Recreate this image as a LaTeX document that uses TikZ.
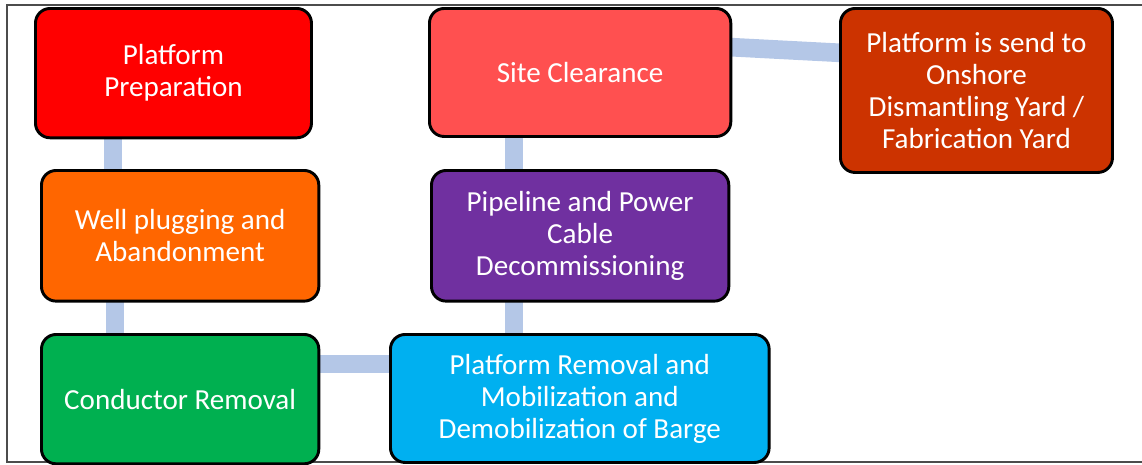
\documentclass[tikz,border=0pt]{standalone}
\usepackage{fontspec}
\setmainfont{Carlito}
\usetikzlibrary{calc,backgrounds}
\definecolor{linkblue}{HTML}{B4C7E7}
\definecolor{cPrep}{HTML}{FF0000}
\definecolor{cWell}{HTML}{FF6600}
\definecolor{cCond}{HTML}{00B050}
\definecolor{cRem}{HTML}{00B0F0}
\definecolor{cPipe}{HTML}{7030A0}
\definecolor{cSite}{HTML}{FF5050}
\definecolor{cShore}{HTML}{CC3300}
\begin{document}
\begin{tikzpicture}[x=0.75pt,y=-0.75pt,
  stage/.style={draw=black,line width=2.2pt,rounded corners=11pt,
    text=white,align=center,font=\fontsize{21.8}{24}\selectfont,
    inner sep=0pt,anchor=north west},
  link/.style={draw=linkblue,line width=14pt}]
\useasboundingbox (0,0) rectangle (1142,464);
% outer frame (open on the right)
\draw[gray!60!black,line width=0.8pt] (1142,5) -- (7,5) -- (7,462) -- (1142,462);

% stages
\node[stage,fill=cPrep,minimum width=207pt,minimum height=97pt] (prep) at (34,7)
  {Platform\\Preparation};
\node[stage,fill=cWell,minimum width=208pt,minimum height=98pt] (well) at (40,169)
  {Well plugging and\\Abandonment};
\node[stage,fill=cCond,minimum width=208pt,minimum height=97pt] (cond) at (40,333)
  {Conductor Removal};
\node[stage,fill=cRem,minimum width=284pt,minimum height=96pt] (rem) at (389,333)
  {Platform Removal and\\Mobilization and\\Demobilization of Barge};
\node[stage,fill=cPipe,minimum width=223pt,minimum height=98pt] (pipe) at (430,169)
  {Pipeline and Power\\Cable\\Decommissioning};
\node[stage,fill=cSite,minimum width=226pt,minimum height=96pt] (site) at (428,7)
  {Site Clearance};
\node[stage,fill=cShore,minimum width=204pt,minimum height=123pt] (shore) at (839,7)
  {Platform is send to\\Onshore\\Dismantling Yard /\\Fabrication Yard};

% connectors, drawn behind the stages
\begin{scope}[on background layer]
\draw[link] ($(prep.south west)+(79,-4)$) -- ($(well.north west)+(73,4)$);
\draw[link] ($(well.south west)+(75,-4)$) -- ($(cond.north west)+(75,4)$);
\draw[link] ($(cond.north east)+(-4,31)$) -- ($(rem.north west)+(4,31)$);
\draw[link] ($(rem.north west)+(125,4)$) -- ($(pipe.south west)+(84,-4)$);
\draw[link] ($(pipe.north west)+(84,4)$) -- ($(site.south west)+(86,-4)$);
\draw[link] ($(site.north east)+(-4,40)$) -- ($(shore.north west)+(4,46)$);
\end{scope}
\end{tikzpicture}
\end{document}
